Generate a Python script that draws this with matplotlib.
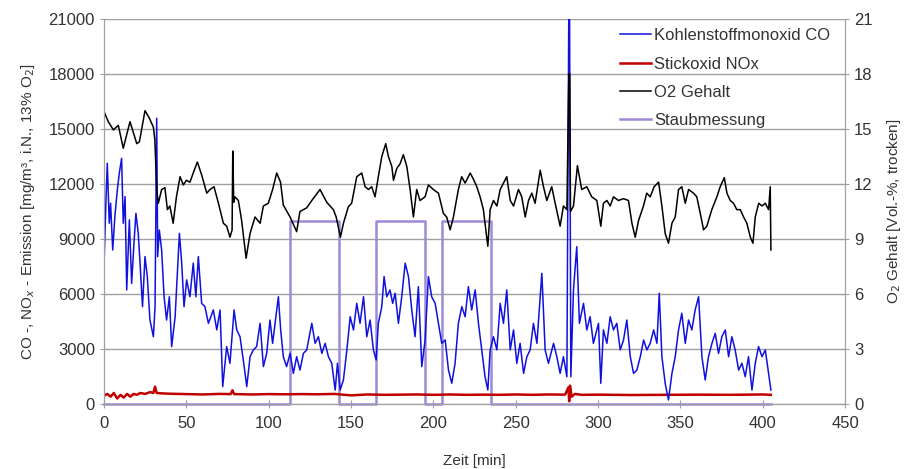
import matplotlib
matplotlib.use('Agg')
import matplotlib.pyplot as plt

plt.rcParams['font.family'] = ['Liberation Sans', 'DejaVu Sans']

# CO (linke Achse, mg/m³)
co_t = [0, 1.2, 2, 3.2, 4.0, 5.3, 6.6, 8.1, 9.3, 10.7, 11.7, 12.8, 13.8, 15.4, 16.8, 18.2, 19.4, 20.8,
        21.9, 23.4, 24.9, 26.3, 27.9, 30, 31, 32, 32.6, 33.6, 35, 36.5, 38, 39.7, 41.1, 43.2, 45.8,
        47.2, 48.6, 50.2, 52.2, 54.2, 55.8, 57.3, 59.3, 61.3, 63.4, 66.4, 68.5, 70.5, 72.1, 74.5,
        76.5, 79, 80.6, 82.6, 84.6, 86.7, 88.7, 90.7, 92.7, 94.8, 96.8, 98.8, 100.8, 102.4, 103.9,
        105.9, 107.3, 108.9, 110.9, 113, 115, 117, 119, 121.1, 123.1, 126.2, 128.2, 130.2, 132.3,
        134.3, 136.3, 138.3, 140.4, 141.8, 143.4, 145.4, 147.5, 149.5, 151.5, 153.5, 155.5, 157.6,
        159.6, 161.6, 163.6, 165.3, 166.6, 168.7, 170.1, 171.7, 173.7, 175.3, 176.8, 178.8, 180.8,
        182.9, 184.9, 186.9, 188.9, 190.9, 193, 195, 197, 199, 201.1, 203.1, 205.1, 207.2, 209.2,
        211.2, 213.2, 215.2, 217.3, 219.3, 221.3, 223.3, 225.4, 227.4, 229.4, 231.4, 233.1, 234.5,
        236.5, 238.6, 240.6, 242.6, 244.6, 246.7, 248.7, 250.7, 252.7, 254.8, 256.8, 258.8, 260.8,
        262.9, 265.9, 267.9, 269.9, 273, 275, 277, 279, 281.1, 282.3, 282.7, 283.5, 285.1, 287.1,
        288.7, 291.2, 293.2, 295.2, 297.2, 299.3, 300.3, 301.7, 303.3, 305.4, 307.4, 309.4, 311.4,
        313.5, 315.5, 317.5, 319.6, 321.6, 323.6, 325.7, 327.7, 329.7, 331.7, 333.8, 335.8, 337.2,
        338.8, 340.8, 342.8, 344.9, 346.9, 348.9, 350.9, 353, 355, 357, 359, 361.1, 363.1, 365.1,
        367.1, 369.2, 371.2, 373.2, 375.2, 377.3, 379.3, 381.3, 383.3, 385.4, 387.4, 389.4, 391.4,
        393.5, 395.5, 397.5, 399.6, 401.6, 403.6, 405]
co_v = [7490, 11130, 13130, 9860, 10950, 8400, 10220, 11680, 12590, 13400, 9860, 11310, 6220, 10040,
        6580, 8770, 10400, 9310, 7680, 5310, 8040, 6950, 4580, 3670, 5310, 15590, 8040, 9490, 8400,
        5850, 4580, 5850, 3130, 4760, 9310, 7680, 5310, 6770, 5850, 7680, 5850, 8040, 5490, 5310,
        4400, 5130, 4040, 5130, 950, 3130, 2220, 5130, 4040, 3670, 2400, 950, 2580, 2950, 3130, 4400,
        2040, 2760, 4580, 3310, 4400, 5850, 4040, 2580, 2040, 2760, 1670, 2580, 1850, 2760, 2950,
        4400, 3310, 3670, 2760, 3310, 2580, 2220, 760, 2220, 760, 1310, 2950, 4760, 4040, 5490, 4400,
        5850, 3670, 4580, 2950, 2400, 4400, 5310, 6950, 5850, 6220, 5490, 6040, 4400, 5850, 7680,
        6950, 5130, 3670, 6400, 2040, 3490, 6950, 5850, 5490, 4400, 3310, 3490, 1850, 1130, 2220,
        4400, 5310, 4760, 6400, 5130, 6220, 4400, 2950, 1490, 760, 2950, 3670, 2950, 5490, 4400,
        6220, 2950, 4040, 2220, 3310, 1670, 2580, 2950, 4400, 3310, 7130, 2950, 2220, 3310, 2580,
        1670, 2580, 1490, 22000, 22000, 1490, 6220, 8580, 4400, 5490, 4040, 4760, 3310, 4040, 4400,
        1130, 4040, 3310, 4760, 4040, 4400, 2950, 3490, 4580, 2580, 1670, 1850, 2580, 3490, 2950,
        3310, 4040, 3310, 6040, 2580, 1130, 220, 1670, 2580, 4040, 4950, 3310, 4580, 4040, 5130,
        5850, 2580, 1310, 2580, 3310, 3850, 2760, 3670, 4040, 2580, 3670, 2950, 1850, 2220, 1490,
        2580, 760, 2220, 3130, 2580, 2950, 1670, 760]

# NOx (linke Achse, mg/m³)
nox_t = [0, 2, 4, 6, 8, 10, 12, 14, 16, 18, 20, 22, 25, 28, 30, 31, 32, 35, 40, 50, 60, 70, 77, 78,
         79, 90, 100, 110, 120, 130, 140, 150, 160, 170, 180, 190, 200, 210, 220, 230, 240, 250, 260,
         270, 280, 282, 282.5, 283, 284, 286, 290, 300, 320, 340, 360, 380, 400, 405]
nox_v = [450, 550, 400, 600, 300, 500, 350, 550, 400, 550, 500, 600, 550, 650, 600, 950, 600, 580,
         560, 540, 520, 550, 540, 750, 540, 520, 540, 530, 540, 530, 550, 470, 520, 500, 510, 520,
         500, 520, 500, 510, 500, 520, 500, 520, 510, 900, 150, 1000, 400, 550, 500, 510, 490, 500,
         510, 500, 520, 500]

# O2 (rechte Achse, Vol.-%)
o2_t = [0, 2.6, 5.7, 8.7, 11.7, 15.8, 19.9, 21.5, 24.9, 27.5, 30, 30.9, 32, 33, 35, 37, 38.5, 40, 42,
        44, 46.2, 48.2, 50, 52.2, 54.2, 56.7, 59.3, 62.4, 64.4, 66.8, 69.5, 72.5, 74.5, 76.5, 77.8,
        78.2, 78.8, 79.5, 81.6, 83.6, 86.3, 88.7, 91.7, 94.8, 96.8, 99.8, 102.4, 104.9, 107.2, 108.9,
        113, 117, 119, 123.1, 126.2, 131.2, 135.3, 139.3, 141, 143.6, 145.4, 148.4, 150.4, 153.5,
        156.5, 158.6, 160.6, 162.6, 164.6, 166.6, 168.7, 171.1, 172.7, 174.8, 175.8, 177.8, 179.8,
        181.8, 183.9, 185.9, 187.9, 189.9, 191.9, 195, 197, 200, 203.1, 206.1, 208.1, 210.2, 212.2,
        215.2, 217.2, 219.3, 222.4, 224.4, 226.4, 228.4, 230.4, 233.1, 234.5, 236.5, 238.6, 240.6,
        242.6, 244.6, 246.7, 248.7, 251.7, 253.7, 255.8, 257.8, 259.8, 261.8, 264.9, 266.9, 268.9,
        271.9, 274, 277, 279, 281.1, 282.3, 282.8, 283.3, 285.1, 287.5, 290.1, 293.2, 296.2, 299.3,
        301.7, 303.3, 305.4, 307.4, 309.4, 312.4, 315.5, 318.5, 320.6, 322.6, 324.6, 327.6, 329.6,
        331.7, 334.1, 336.8, 338.8, 340.8, 342.8, 344.9, 346.9, 348.9, 350.9, 353, 355, 358, 360,
        362.1, 364.1, 366.1, 369.1, 372.2, 374.2, 376.7, 378.3, 380.3, 382.3, 384.3, 386.4, 388.4,
        390.4, 392.5, 394.1, 395.5, 397.6, 399.6, 401.6, 403.6, 404.6, 405]
o2_v = [15.95, 15.4, 14.95, 15.2, 13.95, 15.4, 14.2, 14.3, 16.0, 15.6, 15.1, 14.4, 11.7, 10.95, 11.7,
        11.8, 10.6, 10.8, 9.86, 11.3, 12.4, 11.95, 12.2, 12.1, 12.6, 13.2, 12.5, 11.5, 11.7, 11.85,
        10.95, 9.86, 9.7, 9.1, 9.5, 13.8, 11.0, 11.3, 11.1, 10.0, 7.95, 9.3, 10.2, 9.86, 10.8, 10.95,
        11.7, 12.6, 12.1, 10.85, 10.2, 9.4, 10.5, 10.7, 11.1, 11.7, 11.0, 10.6, 10.2, 9.1, 9.86,
        10.76, 10.95, 12.4, 12.6, 11.85, 11.7, 11.85, 11.3, 12.4, 13.5, 14.2, 13.5, 12.95, 12.2,
        12.85, 13.1, 13.6, 12.95, 11.7, 10.2, 11.7, 11.1, 11.3, 11.95, 11.7, 11.5, 10.4, 10.2, 9.5,
        10.2, 11.7, 12.4, 12.05, 12.6, 12.25, 11.85, 11.3, 10.6, 8.6, 10.6, 11.1, 10.8, 11.7, 12.05,
        12.4, 11.1, 10.8, 11.7, 11.3, 10.2, 11.1, 11.5, 10.95, 12.75, 11.85, 11.1, 11.85, 10.95, 9.7,
        10.8, 10.6, 18.0, 18.0, 10.5, 10.8, 13.0, 11.7, 11.85, 11.3, 11.1, 9.7, 10.95, 11.1, 10.8,
        11.3, 11.1, 11.2, 11.1, 9.86, 9.1, 10.0, 10.8, 11.5, 11.3, 11.85, 12.1, 10.8, 9.3, 8.77, 9.86,
        10.2, 11.7, 11.85, 10.95, 11.7, 11.5, 11.3, 10.4, 9.5, 9.7, 10.6, 11.3, 11.85, 12.35, 11.5,
        11.1, 10.95, 10.6, 10.6, 10.2, 9.86, 9.1, 8.77, 10.2, 10.95, 10.8, 10.95, 10.6, 11.85, 8.4]

# Staubmessung (Messintervalle)
staub_t = [0, 113, 113, 143, 143, 165, 165, 195, 195, 205, 205, 235, 235, 405]
staub_v = [0, 0, 10000, 10000, 0, 0, 10000, 10000, 0, 0, 10000, 10000, 0, 0]

grau = '#a0a0a0'
txt = '#333333'

fig = plt.figure(figsize=(9.09, 4.69), dpi=100)
ax = fig.add_axes([0.1144, 0.1386, 0.8152, 0.8209])
ax2 = ax.twinx()

l4, = ax.plot(staub_t, staub_v, color='#a08ad8', lw=1.8, label='Staubmessung',
              zorder=3, clip_on=False)
l2, = ax.plot(nox_t, nox_v, color='#c00000', lw=1.8, label='Stickoxid NOx', zorder=4)
l1, = ax.plot(co_t, co_v, color='#1010e0', lw=1.1, label='Kohlenstoffmonoxid CO', zorder=5)
l3, = ax2.plot(o2_t, o2_v, color='black', lw=1.1, label='O2 Gehalt')

ax.set_xlim(0, 450)
ax.set_ylim(0, 21000)
ax2.set_ylim(0, 21)
ax.set_xticks(range(0, 451, 50))
ax.set_yticks(range(0, 21001, 3000))
ax2.set_yticks(range(0, 22, 3))
ax.yaxis.grid(True, color=grau, lw=1)
ax.set_axisbelow(True)

for a in (ax, ax2):
    for s in a.spines.values():
        s.set_color(grau)
    a.spines['top'].set_visible(False)
    a.tick_params(colors=grau, labelcolor=txt, labelsize=12, direction='inout', length=6)

ax.tick_params(axis='x', pad=6)
ax.set_xlabel('Zeit [min]', fontsize=11, color=txt, labelpad=16)
ax.set_ylabel('CO -, NO$_x$ - Emission [mg/m³, i.N., 13% O$_2$]', fontsize=11, color=txt,
              labelpad=8)
ax2.set_ylabel('O$_2$ Gehalt [Vol.-%, trocken]', fontsize=11, color=txt, labelpad=9)

leg = ax.legend(handles=[l1, l2, l3, l4], loc='upper right', frameon=False, fontsize=12,
                handlelength=1.9, handletextpad=0.15, labelspacing=0.8,
                bbox_to_anchor=(1.0, 1.015))
for t in leg.get_texts():
    t.set_color(txt)

fig.savefig('out.png', dpi=100)
